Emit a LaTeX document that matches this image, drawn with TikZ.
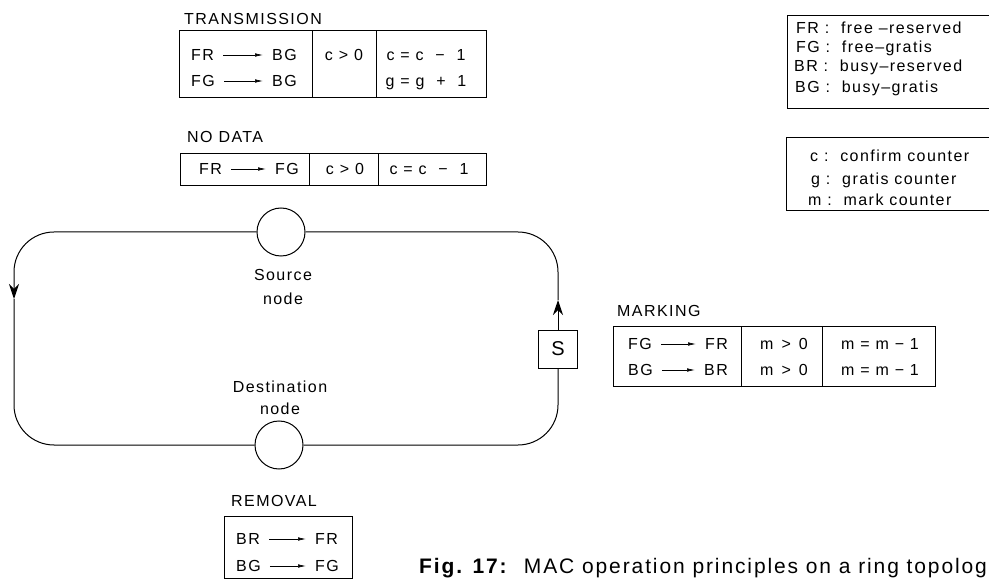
\documentclass[tikz,border=0pt]{standalone}
\usepackage{fontspec}
\setmainfont{Liberation Sans}[LetterSpace=9]
\usetikzlibrary{arrows.meta}

\begin{document}
\begin{tikzpicture}[x=1pt,y=-1pt,font=\fontsize{16}{19}\selectfont]
      \tikzstyle{txt}=[inner sep=0pt,text height=11.5pt,text depth=0pt]
      \tikzstyle{state}=[txt,anchor=west]
      \tikzstyle{cell}=[line width=0.8pt]
      \tikzstyle{edge}=[-{Latex[length=8pt,width=3.5pt]},line width=0.6pt,shorten <=9pt,shorten >=9pt]
      \tikzstyle{ring}=[line width=1pt,rounded corners=40pt]
      \tikzstyle{ringtip}=[-{Stealth[length=15pt,width=10pt]}]
      \tikzstyle{station}=[circle,draw=black,line width=1pt,minimum size=48pt,inner sep=0pt]
      \useasboundingbox (0,0) rectangle (989,580);
      \clip (0,0) rectangle (989,580);
      % ring
      \node[station] (src) at (281,232) {};
      \node[station] (dst) at (279,445) {};
      \node[draw=black,line width=0.9pt,minimum width=39pt,minimum height=38pt,inner sep=0pt,font=\fontsize{20}{24}\selectfont] (sbox) at (558,349) {S};
      \coordinate (down) at (14,299);
      \coordinate (up) at (558,300);
      \draw[ring,ringtip] (src.west) -| (down);
      \draw[ring] (down) |- (dst.west);
      \draw[ring] (dst.east) -| (sbox.south);
      \draw[ring,ringtip] (sbox.north) -- (up);
      \draw[ring] (up) |- (src.east);
      \node[anchor=north,inner sep=0pt,align=center,font=\fontsize{16}{24}\selectfont] (srclbl) at (283,269) {Source\\node};
      \node[anchor=north,inner sep=0pt,align=center,font=\fontsize{16}{22}\selectfont] (dstlbl) at (280,381) {Destination\\node};
      % transmission
      \node[state] (tlbl) at (184,18.5) {TRANSMISSION};
      \draw[cell] (179,30) rectangle (312,97) (312,30) rectangle (376,97) (376,30) rectangle (486,97);
      \node[state] (t1) at (191,55) {FR};
      \node[state] (t2) at (272,55) {BG};
      \node[state] (t3) at (191,81) {FG};
      \node[state] (t4) at (272,81) {BG};
      \draw[edge] (t1) -- (t2);
      \draw[edge] (t3) -- (t4);
      \node[txt] (tc) at (344,55) {c > 0};
      \node[txt] (tu1) at (426,55) {c = c ~−~ 1};
      \node[txt] (tu2) at (426,81) {g = g ~+~ 1};
      % no data
      \node[state] (nlbl) at (187,137) {NO DATA};
      \draw[cell] (180,153) rectangle (309,185) (309,153) rectangle (378,185) (378,153) rectangle (486,185);
      \node[state] (n1) at (199,169) {FR};
      \node[state] (n2) at (275,169) {FG};
      \draw[edge] (n1) -- (n2);
      \node[txt] (nc) at (345,169) {c > 0};
      \node[txt] (nu) at (429,169) {c = c ~−~ 1};
      % legends
      \draw[cell] (787,15) rectangle (1000,108);
      \node[state] (k1) at (796,27.7) {FR\ :\ \ free –reserved};
      \node[state] (k2) at (796,46.7) {FG\ :\ \ free–gratis};
      \node[state] (k3) at (794,66) {BR\ :\ \ busy–reserved};
      \node[state] (k4) at (795,86.3) {BG\ :\ \ busy–gratis};
      \draw[cell] (786,137) rectangle (1000,210);
      \node[state] (v1) at (810,156) {c\ :\ \ confirm counter};
      \node[state] (v2) at (811,178.5) {g\ :\ \ gratis counter};
      \node[state] (v3) at (808,199.5) {m\ :\ \ mark counter};
      % marking
      \node[state] (mlbl) at (617,310.5) {MARKING};
      \draw[cell] (613,326) rectangle (741,386) (741,326) rectangle (822,386) (822,326) rectangle (935,386);
      \node[state] (m1) at (628,344) {FG};
      \node[state] (m2) at (705,344) {FR};
      \node[state] (m3) at (628,370) {BG};
      \node[state] (m4) at (704,370) {BR};
      \draw[edge] (m1) -- (m2);
      \draw[edge] (m3) -- (m4);
      \node[txt] (mc1) at (784,344) {m\enspace>\enspace0};
      \node[txt] (mc2) at (784,370) {m\enspace>\enspace0};
      \node[txt] (mu1) at (880,344) {m = m − 1};
      \node[txt] (mu2) at (880,370) {m = m − 1};
      % removal
      \node[state] (rlbl) at (231,501) {REMOVAL};
      \draw[cell] (224,516) rectangle (352,578);
      \node[state] (r1) at (236,539) {BR};
      \node[state] (r2) at (315,539) {FR};
      \node[state] (r3) at (236,566) {BG};
      \node[state] (r4) at (315,566) {FG};
      \draw[edge] (r1) -- (r2);
      \draw[edge] (r3) -- (r4);
      % caption
      \node[anchor=base west,inner sep=0pt,font=\fontsize{21}{25}\selectfont] (cap) at (419,573) {\textbf{Fig. 17:}\ \ MAC operation principles on a ring topolog};
    \end{tikzpicture}
\end{document}
